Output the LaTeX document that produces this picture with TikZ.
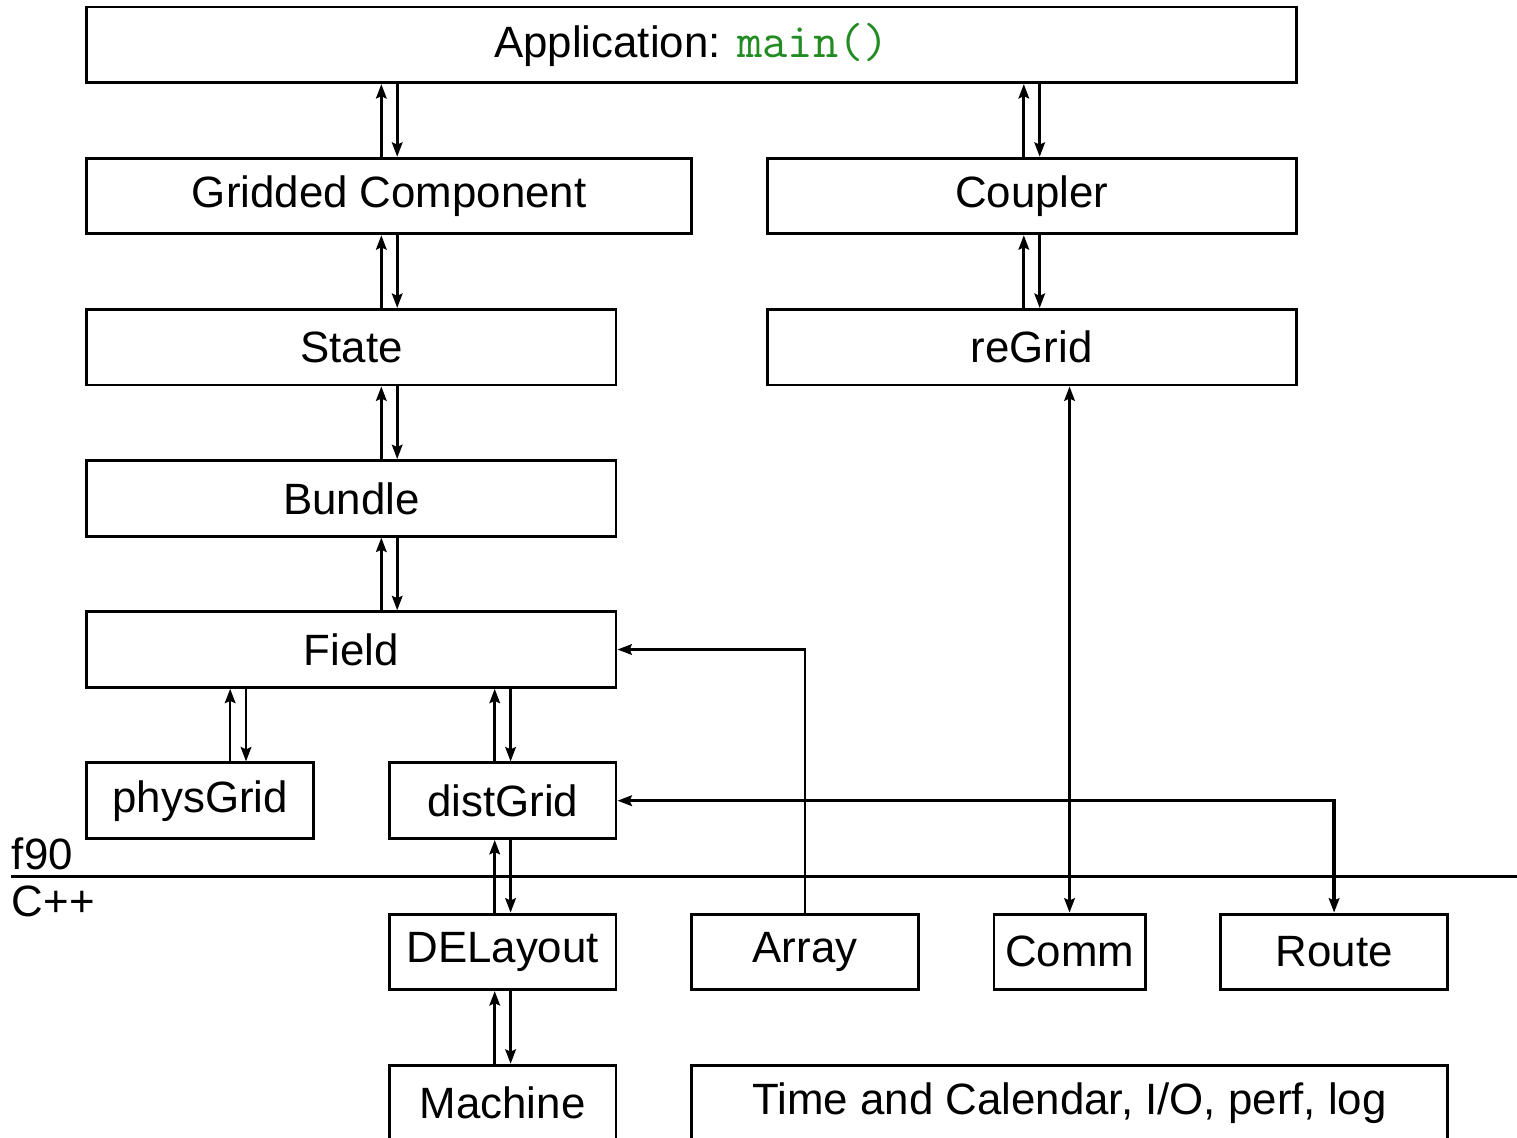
\documentclass[tikz,border=0pt]{standalone}
\usepackage{fontspec}
\setmainfont{Liberation Sans}
\usepackage{tikz}
\usetikzlibrary{calc,arrows.meta}
\usepackage{xcolor}
\definecolor{codegreen}{RGB}{34,139,34}

\begin{document}
\begin{tikzpicture}[
    box/.style={draw, line width=1.1pt, minimum height=1cm, inner sep=0pt,
                font=\fontsize{16.5}{20}\selectfont},
    link/.style={line width=1pt, >={Stealth[length=1.9mm,width=1.4mm,inset=0.3mm]}},
    label/.style={inner sep=0pt, font=\fontsize{16.5}{20}\selectfont}]
\useasboundingbox (-1.15,0.093) rectangle (18.92,-14.96);
\clip (-1.15,0.093) rectangle (18.92,-14.96);

\node[box, minimum width=16cm] (app) at (8,-0.5) {Application: \textcolor{codegreen}{\fontsize{18.5}{20}\selectfont\ttfamily main()}};
\node[box, minimum width=8cm] (gc) at (4,-2.5) {Gridded Component};
\node[box, minimum width=7cm] (coupler) at (12.5,-2.5) {Coupler};
\node[box, minimum width=7cm] (state) at (3.5,-4.5) {State};
\node[box, minimum width=7cm] (regrid) at (12.5,-4.5) {reGrid};
\node[box, minimum width=7cm] (bundle) at (3.5,-6.5) {Bundle};
\node[box, minimum width=7cm] (field) at (3.5,-8.5) {Field};
\node[box, minimum width=3cm] (physgrid) at (1.5,-10.5) {physGrid};
\node[box, minimum width=3cm] (distgrid) at (5.5,-10.5) {distGrid};
\node[box, minimum width=3cm] (delayout) at (5.5,-12.5) {DELayout};
\node[box, minimum width=3cm] (array) at (9.5,-12.5) {Array};
\node[box, minimum width=2cm] (comm) at (13,-12.5) {Comm};
\node[box, minimum width=3cm] (route) at (16.5,-12.5) {Route};
\node[box, minimum width=3cm] (machine) at (5.5,-14.5) {Machine};
\node[box, minimum width=10cm] (tcal) at (13,-14.5) {Time and Calendar, I/O, perf, log};

\coordinate (sepL) at (-1,-11.5);
\coordinate (sepR) at (19,-11.5);
\draw[line width=1.1pt] (sepL) -- (sepR);
\node[label, anchor=south west] (f90) at ([yshift=0.08cm]sepL) {f90};
\node[label, anchor=north west] (cpp) at ([yshift=-0.12cm]sepL) {C++};

\foreach \upnode/\downnode/\x in {app/gc/4, app/coupler/12.5, gc/state/4,
    coupler/regrid/12.5, state/bundle/4, bundle/field/4, field/physgrid/2,
    field/distgrid/5.5, distgrid/delayout/5.5, delayout/machine/5.5}{
  \coordinate (col) at (\x,0);
  \draw[link,->] ([xshift=-1.05mm]\downnode.north -| col) -- ([xshift=-1.05mm]\upnode.south -| col);
  \draw[link,->] ([xshift=1.05mm]\upnode.south -| col) -- ([xshift=1.05mm]\downnode.north -| col);
}

\draw[link,->] (array.north) |- (field.east);
\draw[link,<->] (comm.north |- regrid.south) -- (comm.north);
\draw[link,<->, line width=1.35pt] (distgrid.east) -| (route.north);
\end{tikzpicture}
\end{document}
